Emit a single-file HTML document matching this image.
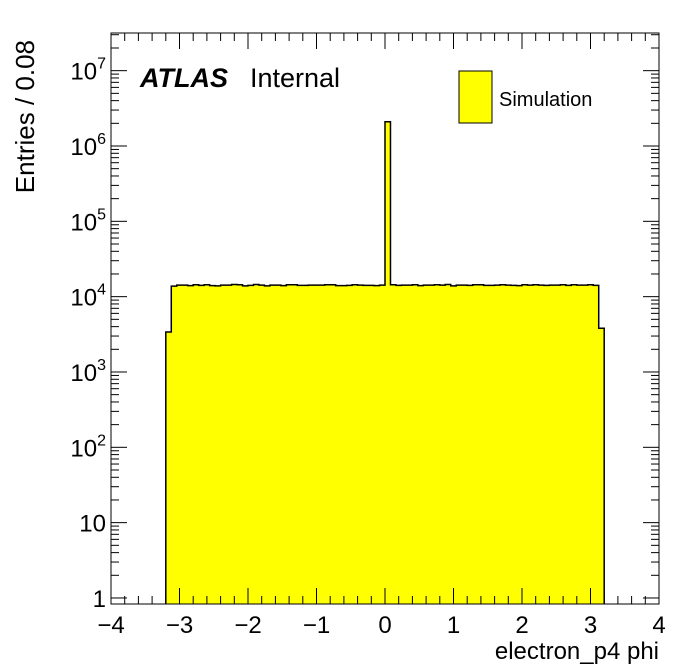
<!DOCTYPE html>
<html><head><meta charset="utf-8"><style>
body{margin:0;background:#fff;}
svg{display:block;font-family:"Liberation Sans",sans-serif;}
</style></head><body>
<svg id="c" width="696" height="672"></svg>
<script>
const binLow = -4, binWidth = 0.08;
const counts = [
0,0,0,0,0,0,0,0,0,0,
3400,13800,14200,14200,14000,14400,14100,14400,14000,13900,
14200,14200,14500,14400,13900,14100,14500,14200,13900,14200,
14200,14000,14400,14400,14100,14100,14200,14200,14200,14400,
14400,14000,14000,14100,14400,14200,14100,14100,14000,14200,
2100000,14400,14100,14200,14200,14400,14000,14200,14200,14400,
14200,14500,13900,14200,14200,14100,14400,14400,14100,14100,
14200,14400,14200,14100,14000,14400,14200,14400,14200,14100,
14200,14200,14400,14100,14400,14200,14200,14400,14100,3800,
0,0,0,0,0,0,0,0,0,0];
const xTicks = [-4,-3,-2,-1,0,1,2,3,4];
const yTicks = [1,10,100,1000,10000,100000,1000000,10000000];
const yTickLabels = ["1","10","10^2","10^3","10^4","10^5","10^6","10^7"];

const L=111,R=659,T=33,B=604;
const yMinLog=-0.08, yMaxLog=7.5;
const X=v=>L+(v+4)/8*(R-L);
const Y=v=>B-(Math.log10(v)-yMinLog)/(yMaxLog-yMinLog)*(B-T);
const svg=document.getElementById('c');
const NS='http://www.w3.org/2000/svg';
function mk(tag,attrs,parent){const e=document.createElementNS(NS,tag);for(const k in attrs)e.setAttribute(k,attrs[k]);(parent||svg).appendChild(e);return e;}

let d='';let started=false;
counts.forEach((c,i)=>{
  const x0=X(binLow+i*binWidth),x1=X(binLow+(i+1)*binWidth);
  if(c<=0){ if(started){d+=`L${x0},${B}`;started=false;} return; }
  const y=Y(c);
  if(!started){d+=`M${x0},${B}L${x0},${y}`;started=true;} else d+=`L${x0},${y}`;
  d+=`L${x1},${y}`;
  if(i==counts.length-1||counts[i+1]<=0){d+=`L${x1},${B}`;started=false;}
});
const h=mk('path',{d:d,fill:'#ffff00',stroke:'#000','stroke-width':1.5});



const f=mk('rect',{x:L,y:T,width:R-L,height:B-T,fill:'none',stroke:'#000','stroke-width':1});



const ax=mk('g',{stroke:'#000','stroke-width':1});


for(let k=0;k<=40;k++){
  const v=-4+k*0.2,x=X(v),len=(k%5==0)?16:8;
  mk('line',{x1:x,y1:B,x2:x,y2:B-len},ax);
  mk('line',{x1:x,y1:T,x2:x,y2:T+len},ax);
}
xTicks.forEach(v=>{
  const t=mk('text',{x:X(v),y:B+29,'font-size':24,'text-anchor':'middle'});
  t.textContent=v<0?'\u2212'+Math.abs(v):String(v);
  
  
});
for(let e=0;e<=7;e++){
  for(let m=1;m<=9;m++){
    const v=m*Math.pow(10,e);const y=Y(v);
    if(y<T)continue;
    const len=m==1?16:8;
    mk('line',{x1:L,y1:y,x2:L+len,y2:y},ax);
    mk('line',{x1:R,y1:y,x2:R-len,y2:y},ax);
  }
}
yTicks.forEach((v,i)=>{
  const y=Y(v);const lab=yTickLabels[i];
  const t=mk('text',{x:L-5,y:y+9,'font-size':24,'text-anchor':'end'});
  
  
  if(lab.includes('^')){
    const [b,p]=lab.split('^');
    const s1=mk('tspan',{},t);s1.textContent=b;
    const s2=mk('tspan',{dy:-11,'font-size':16},t);s2.textContent=p;
  } else t.textContent=lab;
});
</script>
<svg style="position:absolute;left:0;top:0" width="696" height="672" font-family="Liberation Sans, sans-serif">
<text x="140" y="87" font-size="27" font-weight="bold" font-style="italic">ATLAS</text>
<text x="250" y="87" font-size="27">Internal</text>
<rect x="459" y="71" width="33" height="52" fill="#ffff00" stroke="#000" stroke-width="1"/>
<text x="499" y="106" font-size="20">Simulation</text>
<text x="659" y="659" font-size="24" text-anchor="end">electron_p4 phi</text>
<text transform="translate(34,40) rotate(-90)" font-size="26" text-anchor="end">Entries / 0.08</text>
</svg>
</body></html>
